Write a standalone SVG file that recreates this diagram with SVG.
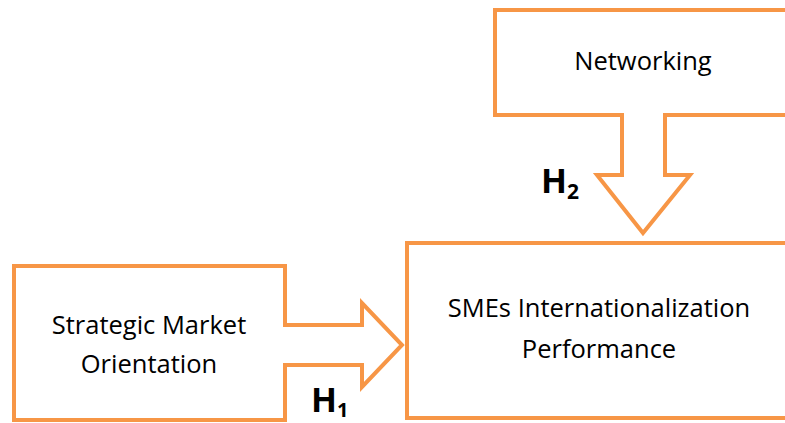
<svg xmlns="http://www.w3.org/2000/svg" width="785" height="423" viewBox="0 0 785 423">
<style>
.shape{fill:#FFFFFF;stroke:#F79646;stroke-width:4;stroke-linejoin:miter}
.lbl{font-family:"Open Sans","Liberation Sans",sans-serif;font-size:25.5px;fill:#000000;text-anchor:middle}
.h{font-family:"Open Sans","Liberation Sans",sans-serif;font-weight:bold;fill:#000000}
</style>
<rect width="785" height="423" fill="#FFFFFF"/>
<g id="networking">
<path class="shape" d="M495 10 H800 V115 H665 V175 H690 L643 233 L597 175 H622 V115 H495 Z"/>
<text class="lbl" x="643" y="70">Networking</text>
</g>
<g id="strategic-market-orientation">
<path class="shape" d="M14 266 H285 V325 H362 V303 L402 345 L362 387 V365 H285 V420 H14 Z"/>
<text class="lbl" x="149" y="334">Strategic Market</text>
<text class="lbl" x="149" y="373">Orientation</text>
</g>
<g id="smes-performance">
<path class="shape" d="M800 243 H407 V418 H800"/>
<text class="lbl" x="599" y="317">SMEs Internationalization</text>
<text class="lbl" x="599" y="358">Performance</text>
</g>
<g id="connectors">
<text class="h" x="541" y="193" font-size="34">H<tspan font-size="21" dy="6">2</tspan></text>
<text class="h" x="311" y="412" font-size="34">H<tspan font-size="20" dy="5">1</tspan></text>
</g>
</svg>
